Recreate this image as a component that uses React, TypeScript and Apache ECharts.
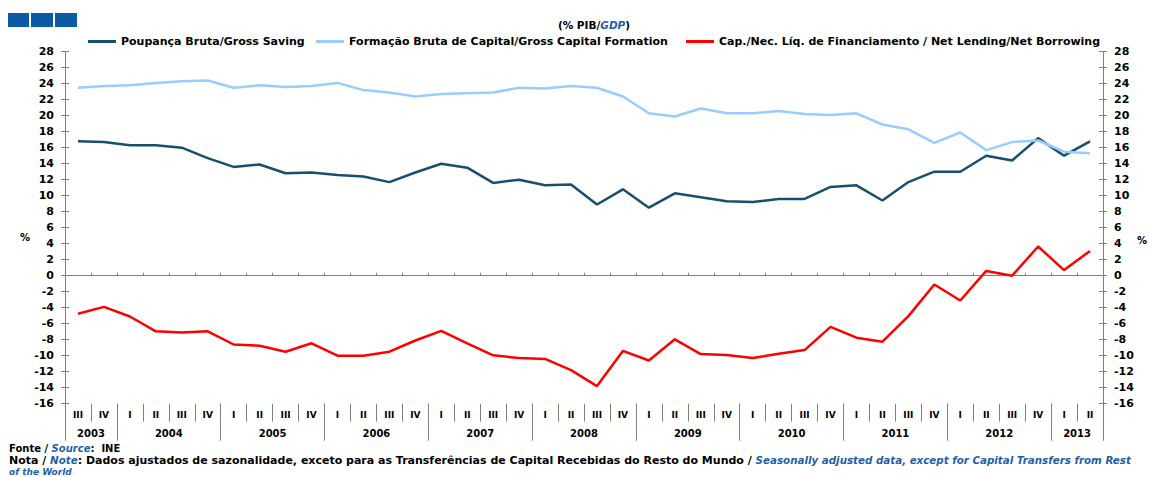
import React, { useEffect, useRef } from "react";
import * as echarts from "echarts";

const quarterLabels = [
  "III", "IV",
  "I", "II", "III", "IV",
  "I", "II", "III", "IV",
  "I", "II", "III", "IV",
  "I", "II", "III", "IV",
  "I", "II", "III", "IV",
  "I", "II", "III", "IV",
  "I", "II", "III", "IV",
  "I", "II", "III", "IV",
  "I", "II", "III", "IV",
  "I", "II",
];

const years = ["2003", "2004", "2005", "2006", "2007", "2008", "2009", "2010", "2011", "2012", "2013"];
const quartersPerYear = [2, 4, 4, 4, 4, 4, 4, 4, 4, 4, 2];

const grossSaving = [
  16.8, 16.7, 16.3, 16.3, 16.0, 14.7, 13.6, 13.9, 12.8, 12.9,
  12.6, 12.4, 11.7, 12.9, 14.0, 13.5, 11.6, 12.0, 11.3, 11.4,
  8.9, 10.8, 8.5, 10.3, 9.8, 9.3, 9.2, 9.6, 9.6, 11.1,
  11.3, 9.4, 11.7, 13.0, 13.0, 15.0, 14.4, 17.2, 15.0, 16.8,
];

const grossCapitalFormation = [
  23.5, 23.7, 23.8, 24.1, 24.3, 24.4, 23.5, 23.8, 23.6, 23.7,
  24.1, 23.2, 22.9, 22.4, 22.7, 22.8, 22.9, 23.5, 23.4, 23.7,
  23.5, 22.4, 20.3, 19.9, 20.9, 20.3, 20.3, 20.6, 20.2, 20.1,
  20.3, 18.9, 18.3, 16.6, 17.9, 15.7, 16.7, 16.9, 15.5, 15.3,
];

const netLending = [
  -4.75, -3.9, -5.1, -6.95, -7.1, -6.95, -8.6, -8.75, -9.5, -8.45,
  -10.0, -10.0, -9.5, -8.1, -6.9, -8.45, -9.95, -10.3, -10.4, -11.8,
  -13.8, -9.4, -10.6, -7.95, -9.8, -9.9, -10.3, -9.75, -9.3, -6.4,
  -7.75, -8.25, -5.05, -1.1, -3.1, 0.6, 0.0, 3.65, 0.7, 3.1,
];

const seriesNames = [
  "Poupança Bruta/Gross Saving",
  "Formação Bruta de Capital/Gross Capital Formation",
  "Cap./Nec. Líq. de Financiamento / Net Lending/Net Borrowing",
];

const FONT = "'DejaVu Sans', sans-serif";
const AXIS_GREY = "#808080";
const NOTE_BLUE = "#1f5fa8";

export default function App() {
  const ref = useRef<HTMLDivElement>(null);

  useEffect(() => {
    if (!ref.current) return;
    const chart = echarts.init(ref.current, null, { renderer: "svg" });

    const yearBoundaries: number[] = [0];
    const yearCenters: number[] = [];
    let acc = 0;
    quartersPerYear.forEach((n) => {
      yearCenters.push(acc + n / 2);
      acc += n;
      yearBoundaries.push(acc);
    });

    const labelStyle = { fontFamily: FONT, fontWeight: "bold" as const, color: "#000" };

    const yBase = {
      type: "value" as const,
      min: -16,
      max: 28,
      interval: 2,
      splitLine: { show: false },
    };

    const legendBase = {
      top: 36,
      padding: 0,
      itemWidth: 28,
      itemHeight: 3,
      icon: "rect",
      textStyle: { ...labelStyle, fontSize: 11 },
    };

    const option = {
      animation: false,
      backgroundColor: "#ffffff",
      grid: { left: 65, right: 46, top: 51.7, bottom: 73.3, containLabel: false },
      legend: [
        { ...legendBase, left: 88, data: [seriesNames[0]] },
        { ...legendBase, left: 316, data: [seriesNames[1]] },
        { ...legendBase, left: 686, data: [seriesNames[2]] },
      ],
      xAxis: [
        {
          type: "category",
          data: quarterLabels,
          position: "bottom",
          boundaryGap: true,
          axisLine: { show: false, onZero: false },
          axisTick: { show: true, interval: 0, length: 18, lineStyle: { color: AXIS_GREY } },
          axisLabel: { ...labelStyle, interval: 0, fontSize: 9, margin: 7 },
          splitLine: { show: false },
        },
        {
          type: "value",
          min: 0,
          max: 40,
          position: "bottom",
          axisLine: { show: false, onZero: false },
          axisTick: { show: true, length: 37, customValues: yearBoundaries, lineStyle: { color: AXIS_GREY } },
          axisLabel: {
            ...labelStyle,
            fontSize: 10,
            margin: 25,
            customValues: yearCenters,
            formatter: (v: number) => {
              const idx = yearCenters.findIndex((c) => Math.abs(c - v) < 0.01);
              return idx >= 0 ? years[idx] : "";
            },
          },
          splitLine: { show: false },
        },
        {
          type: "category",
          data: quarterLabels,
          boundaryGap: true,
          axisLine: { show: true, onZero: true, lineStyle: { color: AXIS_GREY, width: 1 } },
          axisTick: { show: true, interval: 0, length: 3, lineStyle: { color: AXIS_GREY } },
          axisLabel: { show: false },
          splitLine: { show: false },
        },
      ],
      yAxis: [
        {
          ...yBase,
          position: "left",
          axisLine: { show: true, onZero: false, lineStyle: { color: AXIS_GREY, width: 1 } },
          axisTick: { show: true, length: 4, lineStyle: { color: AXIS_GREY } },
          axisLabel: { ...labelStyle, fontSize: 11, margin: 11 },
        },
        {
          ...yBase,
          position: "right",
          axisLine: { show: true, onZero: false, lineStyle: { color: AXIS_GREY, width: 1 } },
          axisTick: { show: true, length: 4, lineStyle: { color: AXIS_GREY } },
          axisLabel: { ...labelStyle, fontSize: 11, margin: 11 },
        },
        {
          ...yBase,
          position: "left",
          axisLine: { show: false, onZero: false },
          axisTick: { show: true, inside: true, length: 4, lineStyle: { color: AXIS_GREY } },
          axisLabel: { show: false },
        },
        {
          ...yBase,
          position: "right",
          axisLine: { show: false, onZero: false },
          axisTick: { show: true, inside: true, length: 4, lineStyle: { color: AXIS_GREY } },
          axisLabel: { show: false },
        },
      ],
      series: [
        {
          name: seriesNames[0],
          type: "line",
          xAxisIndex: 0,
          yAxisIndex: 0,
          data: grossSaving,
          symbol: "none",
          lineStyle: { color: "#174f6e", width: 2.5 },
          itemStyle: { color: "#174f6e" },
        },
        {
          name: seriesNames[1],
          type: "line",
          xAxisIndex: 0,
          yAxisIndex: 0,
          data: grossCapitalFormation,
          symbol: "none",
          lineStyle: { color: "#99ccff", width: 2.5 },
          itemStyle: { color: "#99ccff" },
        },
        {
          name: seriesNames[2],
          type: "line",
          xAxisIndex: 0,
          yAxisIndex: 0,
          data: netLending,
          symbol: "none",
          lineStyle: { color: "#ff0000", width: 2.5 },
          itemStyle: { color: "#ff0000" },
        },
      ],
      graphic: [
        { type: "rect", shape: { x: 8, y: 13, width: 21, height: 14 }, style: { fill: "#0b5aa5" } },
        { type: "rect", shape: { x: 31, y: 13, width: 22, height: 14 }, style: { fill: "#0b5aa5" } },
        { type: "rect", shape: { x: 55, y: 13, width: 22, height: 14 }, style: { fill: "#0b5aa5" } },
        {
          type: "text",
          x: 594,
          y: 25,
          style: {
            text: "{b|(% PIB/}{s|GDP}{b|)}",
            align: "center",
            verticalAlign: "middle",
            rich: {
              b: { fontFamily: FONT, fontWeight: "bold", fontSize: 10.5, fill: "#000" },
              s: { fontFamily: FONT, fontWeight: "bold", fontStyle: "italic", fontSize: 10.5, fill: NOTE_BLUE },
            },
          },
        },
        {
          type: "text",
          x: 25,
          y: 237,
          style: { text: "%", align: "center", verticalAlign: "middle", fontFamily: FONT, fontWeight: "bold", fontSize: 10, fill: "#000" },
        },
        {
          type: "text",
          x: 1142,
          y: 240,
          style: { text: "%", align: "center", verticalAlign: "middle", fontFamily: FONT, fontWeight: "bold", fontSize: 10, fill: "#000" },
        },
        {
          type: "text",
          x: 9,
          y: 448,
          style: {
            text: "{b|Fonte / }{s|Source}{b|:  INE}",
            verticalAlign: "middle",
            rich: {
              b: { fontFamily: FONT, fontWeight: "bold", fontSize: 10, fill: "#000" },
              s: { fontFamily: FONT, fontWeight: "bold", fontStyle: "italic", fontSize: 10, fill: NOTE_BLUE },
            },
          },
        },
        {
          type: "text",
          x: 9,
          y: 460,
          style: {
            text:
              "{b|Nota / }{s|Note}{b|: Dados ajustados de sazonalidade, exceto para as Transferências de Capital Recebidas do Resto do Mundo / }{s|Seasonally adjusted data, except for Capital Transfers from Rest}",
            verticalAlign: "middle",
            rich: {
              b: { fontFamily: FONT, fontWeight: "bold", fontSize: 11, fill: "#000" },
              s: { fontFamily: FONT, fontWeight: "bold", fontStyle: "italic", fontSize: 10.3, fill: NOTE_BLUE },
            },
          },
        },
        {
          type: "text",
          x: 9,
          y: 471.5,
          style: {
            text: "of the World",
            verticalAlign: "middle",
            fontFamily: FONT,
            fontWeight: "bold",
            fontStyle: "italic",
            fontSize: 9,
            fill: NOTE_BLUE,
          },
        },
      ],
    };

    chart.setOption(option as any);
    return () => chart.dispose();
  }, []);

  return (
    <div
      ref={ref}
      style={{ position: "absolute", left: 0, top: 0, width: 1149, height: 477, background: "#fff" }}
    />
  );
}
